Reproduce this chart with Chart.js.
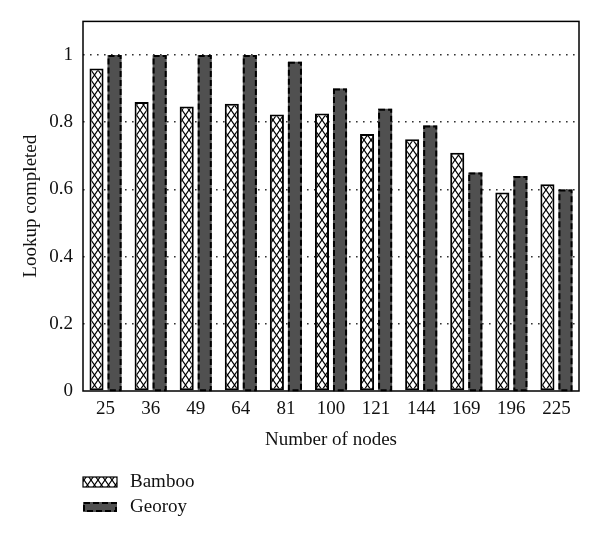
<!DOCTYPE html>
<html>
<head>
<meta charset="utf-8">
<script src="https://cdn.jsdelivr.net/npm/chart.js@4/dist/chart.umd.min.js"></script>
<style>
  html, body { margin: 0; padding: 0; background: #fff; }
  canvas { display: block; }
</style>
</head>
<body>
<canvas id="c" width="600" height="539"></canvas>
<script>
const categories = ['25', '36', '49', '64', '81', '100', '121', '144', '169', '196', '225'];
const bamboo = [0.96, 0.86, 0.847, 0.855, 0.823, 0.826, 0.765, 0.749, 0.709, 0.591, 0.615];
const georoy = [1.0, 1.0, 1.0, 1.0, 0.98, 0.90, 0.84, 0.79, 0.65, 0.64, 0.60];
const yTicks = [0, 0.2, 0.4, 0.6, 0.8, 1];
const seriesNames = ['Bamboo', 'Georoy'];

const FONT = "'Liberation Serif', 'DejaVu Serif', serif";
const GEOROY_FILL = '#505050';

function makeHatch() {
  const c = document.createElement('canvas');
  c.width = 7; c.height = 10;
  const g = c.getContext('2d');
  g.fillStyle = '#fff';
  g.fillRect(0, 0, 7, 10);
  g.strokeStyle = '#000';
  g.lineWidth = 1.2;
  g.beginPath();
  g.moveTo(0, 0); g.lineTo(7, 10);
  g.moveTo(7, 0); g.lineTo(0, 10);
  g.stroke();
  return document.getElementById('c').getContext('2d').createPattern(c, 'repeat');
}
const hatch = makeHatch();

const framePlugin = {
  id: 'frameAndExtras',
  afterDatasetsDraw(chart) {
    const ctx = chart.ctx;
    const meta = chart.getDatasetMeta(1);
    ctx.save();
    ctx.strokeStyle = '#000';
    ctx.lineWidth = 2;
    ctx.setLineDash([6, 3]);
    meta.data.forEach(el => {
      const p = el.getProps(['x', 'y', 'base', 'width'], true);
      const left = p.x - p.width / 2;
      ctx.strokeRect(left + 1, p.y + 1, p.width - 2, p.base - p.y - 1);
    });
    ctx.restore();
  },
  afterDraw(chart) {
    const ctx = chart.ctx;
    const a = chart.chartArea;
    ctx.save();
    ctx.strokeStyle = '#000';
    ctx.lineWidth = 1.5;
    ctx.strokeRect(a.left, a.top, a.right - a.left, a.bottom - a.top);

    // legend (vertical, bottom-left)
    const items = chart.data.datasets;
    const bx = 83, bw = 34, bh = 10;
    const rows = [477, 502];
    ctx.font = '19px ' + FONT;
    ctx.textBaseline = 'middle';
    ctx.fillStyle = '#111';
    items.forEach((ds, i) => {
      const by = rows[i];
      if (i === 0) {
        ctx.fillStyle = hatch;
        ctx.fillRect(bx, by, bw, bh);
        ctx.setLineDash([]);
        ctx.lineWidth = 1.2;
        ctx.strokeStyle = '#000';
        ctx.strokeRect(bx, by, bw, bh);
      } else {
        ctx.fillStyle = GEOROY_FILL;
        ctx.fillRect(bx, by, bw, bh);
        ctx.setLineDash([6, 3]);
        ctx.lineWidth = 2;
        ctx.strokeStyle = '#000';
        ctx.strokeRect(bx + 1, by + 1, bw - 2, bh - 2);
        ctx.setLineDash([]);
      }
      ctx.fillStyle = '#111';
      ctx.textAlign = 'left';
      ctx.fillText(ds.label, 130, by + bh / 2);
    });
    ctx.restore();
  }
};

new Chart(document.getElementById('c'), {
  type: 'bar',
  data: {
    labels: categories,
    datasets: [
      {
        label: seriesNames[0],
        data: bamboo,
        backgroundColor: hatch,
        borderColor: '#000',
        borderWidth: 2,
        borderSkipped: false,
        categoryPercentage: 0.8,
        barPercentage: 0.78
      },
      {
        label: seriesNames[1],
        data: georoy,
        backgroundColor: GEOROY_FILL,
        borderWidth: 0,
        categoryPercentage: 0.8,
        barPercentage: 0.78
      }
    ]
  },
  options: {
    responsive: false,
    animation: false,
    layout: { padding: { left: 0, right: 21, top: 20, bottom: 88 } },
    plugins: {
      legend: { display: false },
      tooltip: { enabled: false }
    },
    scales: {
      x: {
        type: 'category',
        offset: true,
        grid: { display: false, drawTicks: false },
        border: { display: false },
        ticks: { color: '#111', font: { family: FONT, size: 19 }, padding: 7, maxRotation: 0 },
        title: { display: true, text: 'Number of nodes', color: '#111', font: { family: FONT, size: 19 }, padding: { top: 2, bottom: 0 } },
        afterFit(s) { s.height = 60; }
      },
      y: {
        min: 0,
        max: 1.1,
        afterBuildTicks(s) { s.ticks = yTicks.map(v => ({ value: v })); },
        grid: {
          drawTicks: false,
          color: ctx => (ctx.tick && ctx.tick.value > 0 ? '#333' : 'rgba(0,0,0,0)'),
          lineWidth: 1.6
        },
        border: { display: false, dash: [1.6, 5.4] },
        ticks: {
          color: '#111',
          font: { family: FONT, size: 19 },
          padding: 10,
          callback: v => String(+(+v).toFixed(1))
        },
        title: { display: true, text: 'Lookup completed', color: '#111', font: { family: FONT, size: 19 }, padding: { top: 20, bottom: 0 } },
        afterFit(s) { s.width = 83; }
      }
    }
  },
  plugins: [framePlugin]
});
</script>
</body>
</html>
